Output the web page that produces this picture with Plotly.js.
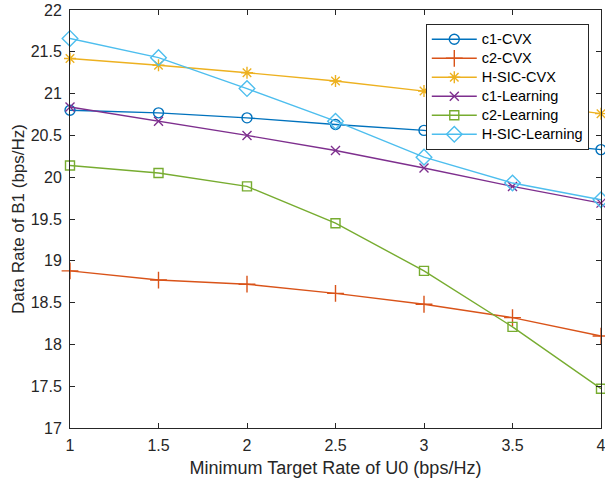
<!DOCTYPE html>
<html>
<head>
<meta charset="utf-8">
<script src="https://cdn.plot.ly/plotly-3.0.1.min.js"></script>
<style>html,body{margin:0;padding:0;background:#fff;}#chart{width:605px;height:480px;}</style>
</head>
<body>
<div id="chart"></div>
<script>
const xVals = [1, 1.5, 2, 2.5, 3, 3.5, 4];
const c1CVX = [20.80, 20.77, 20.71, 20.63, 20.56, 20.43, 20.33];
const c2CVX = [18.88, 18.77, 18.72, 18.61, 18.48, 18.32, 18.10];
const hsicCVX = [21.42, 21.34, 21.25, 21.15, 21.03, 20.90, 20.76];
const c1Learning = [20.84, 20.67, 20.50, 20.32, 20.11, 19.89, 19.69];
const c2Learning = [20.14, 20.05, 19.89, 19.45, 18.88, 18.21, 17.47];
const hsicLearning = [21.66, 21.43, 21.06, 20.67, 20.24, 19.93, 19.73];
const seriesNames = ['c1-CVX', 'c2-CVX', 'H-SIC-CVX', 'c1-Learning', 'c2-Learning', 'H-SIC-Learning'];
const xTicks = [1, 1.5, 2, 2.5, 3, 3.5, 4];
const yTicks = [17, 17.5, 18, 18.5, 19, 19.5, 20, 20.5, 21, 21.5, 22];

const styles = [
  {color: '#0072BD', symbol: 'circle-open', size: 10},
  {color: '#D95319', symbol: 'cross-thin-open', size: 12},
  {color: '#EDB120', symbol: 'asterisk-open', size: 10},
  {color: '#7E2F8E', symbol: 'x-thin-open', size: 9},
  {color: '#77AC30', symbol: 'square-open', size: 9},
  {color: '#4DBEEE', symbol: 'diamond-open', size: 12}
];
const data = [c1CVX, c2CVX, hsicCVX, c1Learning, c2Learning, hsicLearning];
const traces = data.map((y, i) => ({
  x: xVals, y: y, name: '<span style="font-size:14.5px">' + seriesNames[i] + '</span>',
  type: 'scatter', mode: 'lines+markers',
  cliponaxis: false,
  line: {color: styles[i].color, width: 1.4},
  marker: {symbol: styles[i].symbol, size: styles[i].size, color: styles[i].color,
           line: {color: styles[i].color, width: 1.4}}
}));

const fontFam = 'Liberation Sans, Arial, Helvetica, sans-serif';
const axisCommon = {
  showgrid: false, zeroline: false, showline: true, linecolor: '#262626', linewidth: 1,
  mirror: 'ticks', ticks: 'inside', ticklen: 5, tickcolor: '#262626', tickwidth: 1,
  ticklabeloverflow: 'allow',
  tickfont: {family: fontFam, size: 16, color: '#262626'}
};
const layout = {
  width: 605, height: 480,
  margin: {l: 70, r: 4, t: 10, b: 52, pad: 0},
  paper_bgcolor: '#fff', plot_bgcolor: '#fff',
  showlegend: true,
  xaxis: Object.assign({}, axisCommon, {
    range: [1, 4], tickvals: xTicks, ticktext: xTicks.map(String),
    ticklabelstandoff: 3,
    title: {text: 'Minimum Target Rate of U0 (bps/Hz)', font: {family: fontFam, size: 18, color: '#262626'}, standoff: 8}
  }),
  yaxis: Object.assign({}, axisCommon, {
    range: [17, 22], tickvals: yTicks, ticktext: yTicks.map(String),
    ticklabelstandoff: 4,
    title: {text: 'Data Rate of B1 (bps/Hz)', font: {family: fontFam, size: 17, color: '#262626'}, standoff: 1}
  }),
  legend: {
    x: 0.977, y: 0.967, xanchor: 'right', yanchor: 'top',
    bgcolor: '#fff', bordercolor: '#262626', borderwidth: 1,
    font: {family: fontFam, size: 12, color: '#000'},
    tracegroupgap: 0, itemwidth: 45
  }
};
Plotly.newPlot('chart', traces, layout, {displayModeBar: false, staticPlot: true});
</script>
</body>
</html>
